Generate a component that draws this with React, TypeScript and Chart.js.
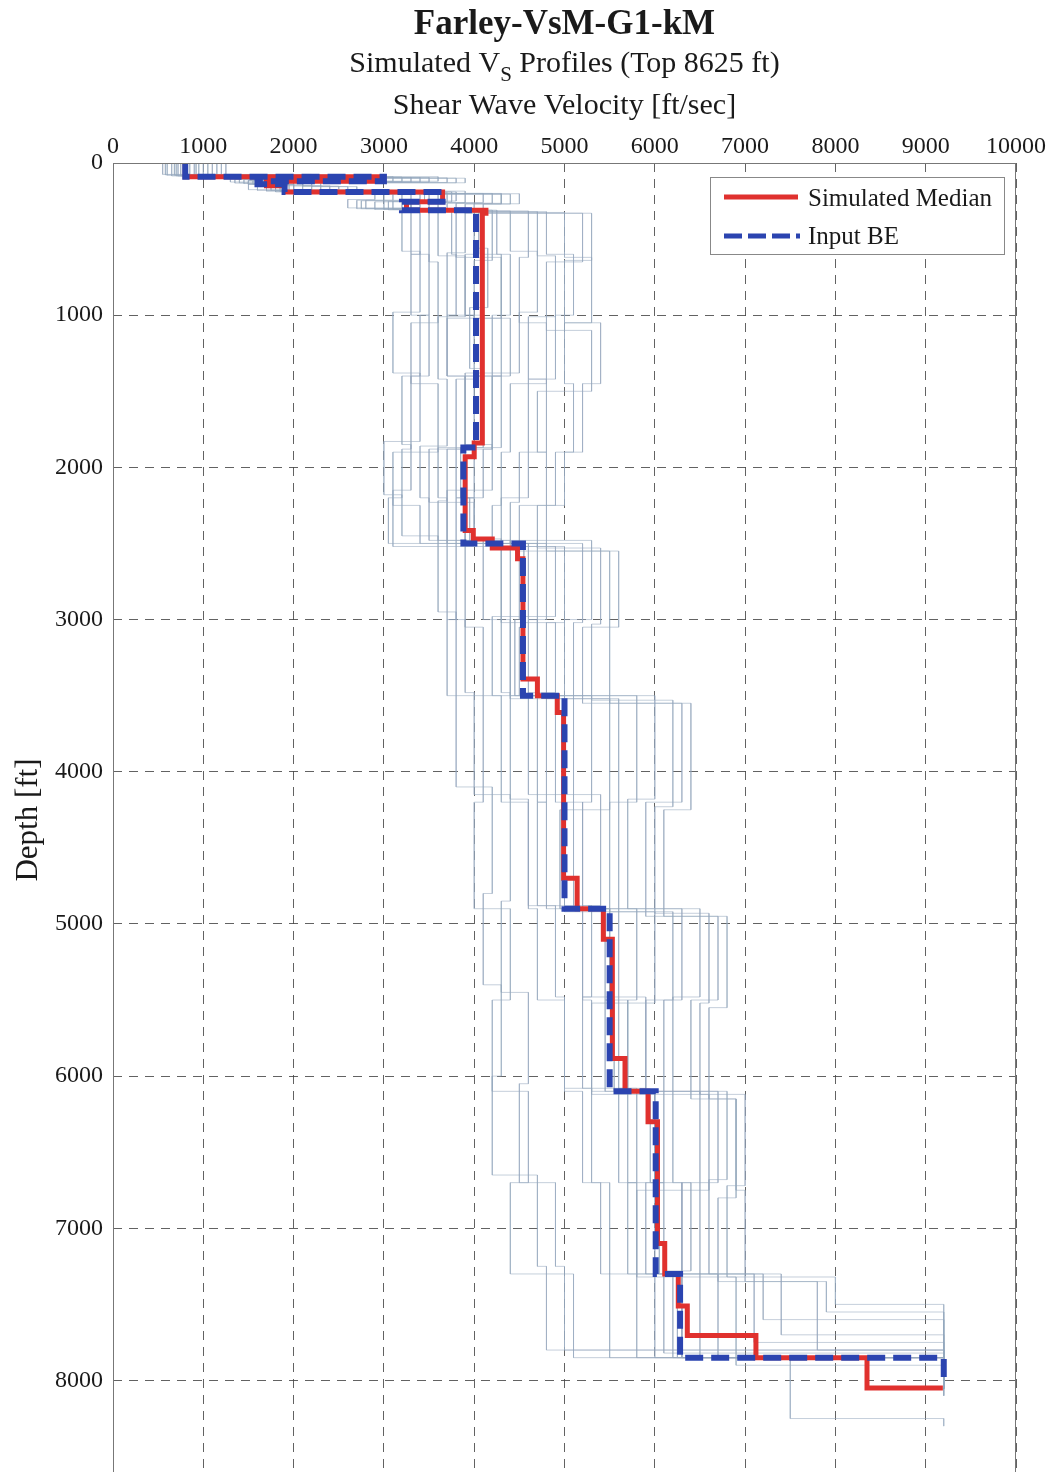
import { useEffect, useRef } from "react";
import { Chart, registerables } from "chart.js";

Chart.register(...registerables);

// ---- axis settings ----
const velocityMin = 0;
const velocityMax = 10000;
const velocityTicks = [0, 1000, 2000, 3000, 4000, 5000, 6000, 7000, 8000, 9000, 10000];
const depthMin = 0;
const depthMax = 8625;
const depthTicks = [0, 1000, 2000, 3000, 4000, 5000, 6000, 7000, 8000];

// ---- Input BE profile (layer tops, Vs, bottom) ----
const beTops = [0, 90, 120, 140, 190, 255, 310, 1870, 2500, 3500, 4900, 6100, 7300, 7850];
const beVs = [800, 3000, 1600, 1900, 3650, 3200, 4020, 3880, 4540, 5000, 5500, 6010, 6280, 9200];
const beBottom = 8025;

// ---- Simulated median profile ----
const medianTops = [0, 90, 120, 150, 190, 255, 310, 330, 1840, 1930, 2415, 2470, 2530, 2600, 3390, 3500, 3610, 4700, 4900, 5100, 5885, 6100, 6300, 7100, 7300, 7510, 7705, 7850, 8050];
const medianVs = [800, 3000, 1700, 1900, 3650, 3250, 4130, 4090, 4000, 3900, 3990, 4200, 4480, 4540, 4700, 4920, 4990, 5140, 5430, 5530, 5670, 5925, 6030, 6110, 6260, 6360, 7120, 8350, 9190];
const medianBottom = 8050;

// ---- Simulated profiles: [layer top depth, Vs]; last pair = bottom ----
const sim01 = [[0, 700], [85, 2700], [115, 1500], [140, 2000], [195, 3400], [250, 3000], [305, 3800], [620, 4300], [1020, 3700], [1400, 4200], [1880, 3500], [2230, 4000], [2470, 4300], [3020, 4900], [3480, 4600], [4150, 5400], [4880, 5200], [5480, 5900], [6080, 5600], [6700, 6400], [7280, 6100], [7820, 9200], [8000, 9200]];
const sim02 = [[0, 950], [95, 3300], [125, 1800], [145, 1700], [185, 3900], [260, 3500], [315, 4400], [580, 4700], [980, 4500], [1380, 3900], [1850, 4200], [2150, 3700], [2520, 4900], [2980, 4400], [3520, 5500], [4250, 5000], [4920, 6000], [5520, 5300], [6120, 6600], [6750, 5800], [7320, 6900], [7900, 9200], [8050, 9200]];
const sim03 = [[0, 600], [80, 2300], [105, 1400], [130, 1600], [180, 3100], [245, 2700], [300, 3500], [650, 3600], [1050, 3300], [1450, 3600], [1900, 3100], [2250, 3400], [2500, 3900], [3050, 4100], [3500, 4300], [4200, 4600], [4900, 4700], [5500, 5000], [6100, 5200], [6700, 5400], [7300, 5500], [7850, 9200], [8000, 9200]];
const sim04 = [[0, 1100], [90, 3600], [120, 2100], [150, 2400], [200, 4300], [265, 3800], [320, 4800], [600, 5100], [1000, 4900], [1420, 4600], [1880, 4600], [2200, 4300], [2480, 5300], [3000, 5000], [3500, 6000], [4180, 5700], [4900, 6500], [5480, 6200], [6100, 6800], [6680, 6600], [7300, 7400], [7700, 9200], [8050, 9200]];
const sim05 = [[0, 800], [90, 3000], [120, 1600], [140, 1900], [190, 3650], [255, 3200], [310, 4000], [560, 4150], [950, 3950], [1350, 4100], [1870, 3850], [2200, 3900], [2500, 4550], [3050, 4500], [3500, 5000], [4250, 4950], [4900, 5500], [5500, 5450], [6100, 6000], [6700, 6050], [7300, 6300], [7850, 9200], [8050, 9200]];
const sim06 = [[0, 650], [85, 2500], [115, 1700], [140, 1800], [190, 3300], [255, 2900], [305, 3400], [600, 3300], [1000, 3500], [1400, 3200], [1850, 3300], [2150, 3100], [2520, 3700], [3000, 3900], [3480, 4000], [4150, 4400], [4850, 4300], [5450, 4600], [6050, 4500], [6700, 4900], [7250, 5000], [7800, 9200], [8000, 9200]];
const sim07 = [[0, 1200], [100, 3800], [130, 2200], [155, 2600], [205, 4400], [270, 3900], [330, 5200], [650, 4800], [1100, 5300], [1500, 4700], [1900, 4800], [2250, 4500], [2550, 5500], [3050, 5200], [3550, 6300], [4200, 5900], [4950, 6700], [5500, 6400], [6150, 6900], [6800, 6700], [7350, 7900], [7550, 9200], [8050, 9200]];
const sim08 = [[0, 900], [90, 2900], [120, 1500], [140, 2000], [190, 3800], [250, 3300], [310, 4200], [640, 4000], [1020, 4400], [1400, 4000], [1870, 4000], [2200, 3800], [2500, 4700], [3000, 4600], [3500, 5100], [4200, 5200], [4900, 5600], [5500, 5700], [6100, 6100], [6700, 5900], [7300, 6500], [7850, 9200], [8050, 9200]];
const sim09 = [[0, 550], [75, 2200], [105, 1300], [125, 1500], [175, 2900], [240, 2600], [295, 3200], [580, 3400], [980, 3100], [1380, 3400], [1830, 3000], [2180, 3200], [2450, 3600], [2950, 3800], [3450, 3800], [4100, 4200], [4800, 4100], [5400, 4300], [6000, 4200], [6650, 4700], [7250, 4800], [7800, 9200], [8000, 9200]];
const sim10 = [[0, 1000], [95, 3400], [125, 1900], [150, 2200], [200, 4100], [260, 3600], [315, 4600], [620, 4500], [1050, 4800], [1450, 4400], [1900, 4300], [2250, 4200], [2520, 5000], [3020, 4800], [3520, 5600], [4200, 5500], [4920, 6200], [5500, 5900], [6100, 6500], [6700, 6300], [7300, 7100], [7750, 9200], [8050, 9200]];
const sim11 = [[0, 750], [85, 2800], [115, 1600], [140, 1800], [185, 3500], [250, 3100], [305, 3900], [590, 3700], [1000, 4000], [1420, 3800], [1880, 3700], [2220, 3600], [2480, 4400], [2980, 4200], [3500, 4800], [4200, 4700], [4880, 5300], [5480, 5200], [6080, 5800], [6700, 5700], [7300, 6200], [7850, 9200], [8000, 9200]];
const sim12 = [[0, 850], [90, 3100], [120, 1700], [145, 2000], [195, 3700], [255, 3300], [310, 4100], [600, 4300], [1000, 4200], [1400, 4300], [1870, 3900], [2200, 4000], [2500, 4600], [3000, 4700], [3500, 5000], [4200, 5100], [4900, 5500], [5500, 5600], [6100, 6000], [6700, 6100], [7300, 6300], [7850, 9200], [8100, 9200]];
const sim13 = [[0, 680], [80, 2600], [110, 1450], [135, 1750], [180, 3200], [245, 2800], [300, 3600], [610, 3900], [1010, 3600], [1420, 3700], [1860, 3400], [2200, 3500], [2480, 4100], [3000, 4300], [3480, 4400], [4180, 4600], [4880, 4900], [5480, 5000], [6080, 5300], [6700, 5500], [7300, 5800], [7850, 9200], [8000, 9200]];
const sim14 = [[0, 1050], [95, 3500], [125, 2000], [150, 2300], [200, 4200], [265, 3700], [320, 4700], [610, 4900], [1010, 4600], [1420, 4800], [1900, 4500], [2230, 4400], [2500, 5200], [3020, 5100], [3500, 5800], [4200, 5600], [4900, 6300], [5500, 6100], [6100, 6700], [6700, 6500], [7300, 7200], [7600, 9200], [8050, 9200]];
const sim15 = [[0, 780], [88, 2950], [118, 1550], [140, 1950], [192, 3600], [255, 3250], [312, 4050], [600, 3900], [1000, 4100], [1400, 3900], [1880, 3800], [2200, 3950], [2500, 4500], [3000, 4450], [3500, 4900], [4200, 5000], [4900, 5450], [5500, 5550], [6100, 5950], [6700, 6000], [7300, 6250], [7850, 9200], [8050, 9200]];
const sim16 = [[0, 920], [92, 3200], [122, 1650], [142, 2100], [190, 3750], [255, 3400], [310, 4250], [600, 4400], [1000, 4300], [1400, 4200], [1880, 4100], [2200, 3900], [2500, 4800], [3000, 4700], [3500, 5300], [4200, 5200], [4900, 5800], [5500, 5700], [6100, 6200], [6700, 6300], [7300, 6700], [7850, 9200], [8050, 9200]];
const sim17 = [[0, 720], [85, 2700], [115, 1500], [138, 1850], [188, 3450], [252, 3050], [308, 3750], [600, 3800], [1000, 3700], [1400, 3900], [1870, 3600], [2200, 3700], [2500, 4300], [3000, 4400], [3500, 4700], [4200, 4800], [4900, 5200], [5500, 5300], [6100, 5700], [6700, 5800], [7300, 6000], [7850, 7500], [8250, 9200], [8300, 9200]];
const sim18 = [[0, 1150], [98, 3700], [128, 2100], [152, 2500], [202, 4500], [268, 4000], [325, 5000], [620, 5300], [1050, 5000], [1450, 5100], [1900, 4900], [2250, 4700], [2530, 5400], [3030, 5300], [3530, 6200], [4230, 6000], [4930, 6600], [5520, 6500], [6120, 7000], [6720, 6800], [7320, 8000], [7500, 9200], [8050, 9200]];
const sim19 = [[0, 580], [78, 2400], [108, 1350], [132, 1700], [182, 3000], [248, 2750], [300, 3300], [600, 3500], [1000, 3400], [1400, 3300], [1880, 3200], [2200, 3050], [2500, 3800], [3000, 3700], [3500, 4100], [4200, 4000], [4900, 4400], [5500, 4200], [6100, 4600], [6700, 4400], [7300, 5100], [7850, 9200], [8000, 9200]];
const sim20 = [[0, 1250], [100, 3900], [130, 2300], [155, 2700], [205, 4300], [270, 4100], [330, 5300], [640, 5000], [1050, 5400], [1450, 5200], [1900, 5000], [2250, 4800], [2550, 5600], [3050, 5500], [3550, 6400], [4250, 6100], [4950, 6800], [5550, 6600], [6150, 6900], [6750, 7000], [7350, 7800], [7800, 9200], [8100, 9200]];

const simulatedProfiles = [sim01, sim02, sim03, sim04, sim05, sim06, sim07, sim08, sim09, sim10, sim11, sim12, sim13, sim14, sim15, sim16, sim17, sim18, sim19, sim20];

// ---- text ----
const titleText = "Farley-VsM-G1-kM";
const subtitleParts = ["Simulated V", "S", " Profiles (Top 8625 ft)"];
const xAxisTitle = "Shear Wave Velocity [ft/sec]";
const yAxisTitle = "Depth [ft]";
const legendLabels = ["Simulated Median", "Input BE"];

const RED = "#e0312e";
const BLUE = "#2b44b0";
const GRAY = "rgba(150,168,190,0.55)";
const SERIF = '"Liberation Serif", "Times New Roman", serif';

function stepsFromLayers(tops: number[], vs: number[], bottom: number) {
  const pts: { x: number; y: number }[] = [];
  for (let i = 0; i < tops.length; i++) {
    const next = i < tops.length - 1 ? tops[i + 1] : bottom;
    pts.push({ x: vs[i], y: tops[i] });
    pts.push({ x: vs[i], y: next });
  }
  return pts;
}

function stepsFromPairs(pairs: number[][]) {
  const pts: { x: number; y: number }[] = [];
  for (let i = 0; i < pairs.length - 1; i++) {
    pts.push({ x: pairs[i][1], y: pairs[i][0] });
    pts.push({ x: pairs[i][1], y: pairs[i + 1][0] });
  }
  return pts;
}

const decorPlugin = {
  id: "decor",
  beforeDraw(chart: any) {
    const ctx = chart.ctx;
    ctx.save();
    ctx.fillStyle = "#ffffff";
    ctx.fillRect(0, 0, chart.width, chart.height);
    ctx.restore();
  },
  afterDraw(chart: any) {
    const ctx = chart.ctx;
    const a = chart.chartArea;
    const cx = (a.left + a.right) / 2;
    ctx.save();
    // frame
    ctx.strokeStyle = "#777";
    ctx.lineWidth = 1;
    ctx.setLineDash([]);
    ctx.strokeRect(a.left + 0.5, a.top + 0.5, a.right - a.left - 1, a.bottom - a.top);

    ctx.fillStyle = "#1a1a1a";
    ctx.textBaseline = "alphabetic";
    // title
    ctx.font = `bold 35px ${SERIF}`;
    ctx.textAlign = "center";
    ctx.fillText(titleText, cx, 34);
    // subtitle with subscript
    const mainFont = `30px ${SERIF}`;
    const subFont = `21px ${SERIF}`;
    ctx.font = mainFont;
    const w0 = ctx.measureText(subtitleParts[0]).width;
    const w2 = ctx.measureText(subtitleParts[2]).width;
    ctx.font = subFont;
    const w1 = ctx.measureText(subtitleParts[1]).width;
    let sx = cx - (w0 + w1 + w2) / 2;
    ctx.textAlign = "left";
    ctx.font = mainFont;
    ctx.fillText(subtitleParts[0], sx, 72);
    sx += w0;
    ctx.font = subFont;
    ctx.fillText(subtitleParts[1], sx, 81);
    sx += w1;
    ctx.font = mainFont;
    ctx.fillText(subtitleParts[2], sx, 72);
    // x-axis title
    ctx.textAlign = "center";
    ctx.font = `30px ${SERIF}`;
    ctx.fillText(xAxisTitle, cx, 114);
    // y-axis title
    ctx.save();
    ctx.translate(37, 820);
    ctx.rotate(-Math.PI / 2);
    ctx.font = `31px ${SERIF}`;
    ctx.fillText(yAxisTitle, 0, 0);
    ctx.restore();

    // legend
    const lx = a.right - 306;
    const ly = a.top + 14;
    ctx.fillStyle = "#ffffff";
    ctx.fillRect(lx, ly, 294, 77);
    ctx.strokeStyle = "#888";
    ctx.lineWidth = 1;
    ctx.strokeRect(lx + 0.5, ly + 0.5, 294, 77);
    ctx.lineWidth = 5;
    ctx.strokeStyle = RED;
    ctx.beginPath();
    ctx.moveTo(lx + 14, ly + 20);
    ctx.lineTo(lx + 88, ly + 20);
    ctx.stroke();
    ctx.lineWidth = 5;
    ctx.strokeStyle = BLUE;
    ctx.setLineDash([18, 6]);
    ctx.beginPath();
    ctx.moveTo(lx + 14, ly + 59);
    ctx.lineTo(lx + 90, ly + 59);
    ctx.stroke();
    ctx.setLineDash([]);
    ctx.fillStyle = "#1a1a1a";
    ctx.font = `25px ${SERIF}`;
    ctx.textAlign = "left";
    ctx.textBaseline = "middle";
    ctx.fillText(legendLabels[0], lx + 98, ly + 22);
    ctx.fillText(legendLabels[1], lx + 98, ly + 60);
    ctx.restore();
  },
};

export default function App() {
  const canvasRef = useRef<HTMLCanvasElement | null>(null);

  useEffect(() => {
    const canvas = canvasRef.current;
    if (!canvas) return;

    const simDatasets = simulatedProfiles.map((p, i) => ({
      label: `sim${i + 1}`,
      data: stepsFromPairs(p),
      showLine: true,
      borderColor: GRAY,
      borderWidth: 1,
      pointRadius: 0,
      order: 3,
    }));

    const chart = new Chart(canvas, {
      type: "scatter",
      data: {
        datasets: [
          ...simDatasets,
          {
            label: legendLabels[0],
            data: stepsFromLayers(medianTops, medianVs, medianBottom),
            showLine: true,
            borderColor: RED,
            borderWidth: 5,
            pointRadius: 0,
            order: 2,
          },
          {
            label: legendLabels[1],
            data: stepsFromLayers(beTops, beVs, beBottom),
            showLine: true,
            borderColor: BLUE,
            borderWidth: 6,
            borderDash: [18, 8],
            borderCapStyle: "butt",
            pointRadius: 0,
            order: 1,
          },
        ],
      },
      options: {
        animation: false,
        responsive: false,
        devicePixelRatio: 1,
        layout: { padding: { left: 0, right: 35, top: 0, bottom: 5 } },
        plugins: {
          legend: { display: false },
          tooltip: { enabled: false },
          title: { display: false },
        },
        scales: {
          x: {
            type: "linear",
            position: "top",
            min: velocityMin,
            max: velocityMax,
            afterBuildTicks: (scale: any) => {
              scale.ticks = velocityTicks.map((v) => ({ value: v }));
            },
            ticks: {
              callback: (v: any) => String(v),
              font: { family: SERIF, size: 24 },
              color: "#1a1a1a",
              padding: 2,
              maxRotation: 0,
              autoSkip: false,
            },
            grid: { color: "rgba(70,70,70,0.85)", lineWidth: 1, drawTicks: false, tickLength: 0 },
            border: { display: false, dash: [9, 7] },
            afterFit: (scale: any) => {
              scale.height = 163;
            },
          },
          y: {
            type: "linear",
            reverse: true,
            min: depthMin,
            max: depthMax,
            afterBuildTicks: (scale: any) => {
              scale.ticks = depthTicks.map((v) => ({ value: v }));
            },
            ticks: {
              callback: (v: any) => String(v),
              font: { family: SERIF, size: 24 },
              color: "#1a1a1a",
              padding: 10,
              autoSkip: false,
            },
            grid: { color: "rgba(70,70,70,0.85)", lineWidth: 1, drawTicks: false, tickLength: 0 },
            border: { display: false, dash: [9, 7] },
            afterFit: (scale: any) => {
              scale.width = 113;
            },
          },
        },
      },
      plugins: [decorPlugin],
    } as any);

    return () => chart.destroy();
  }, []);

  return (
    <div style={{ position: "absolute", left: 0, top: 0, width: 1051, height: 1472, overflow: "hidden", background: "#fff" }}>
      <canvas ref={canvasRef} width={1051} height={1500} style={{ display: "block" }} />
    </div>
  );
}
